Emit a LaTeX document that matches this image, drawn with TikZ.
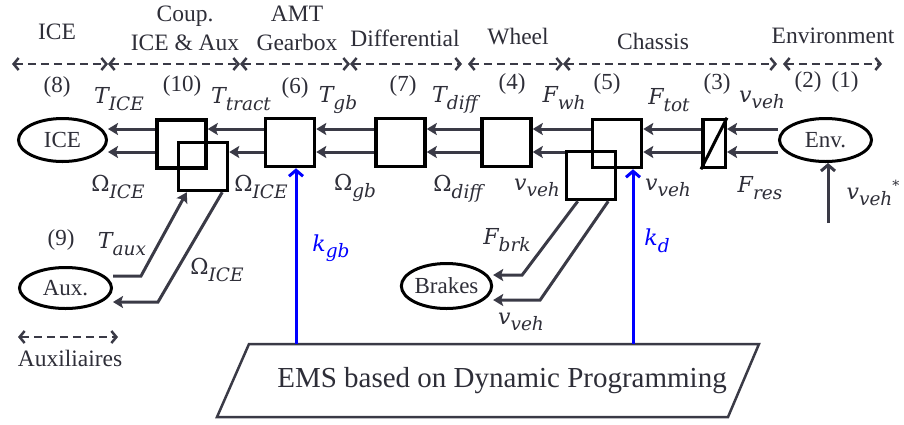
\documentclass[tikz,border=0pt]{standalone}
\usepackage{fontspec}
\setmainfont{Liberation Serif}
\newfontfamily\dvs{DejaVu Serif}
\newcommand\labT[2]{{\dvs\itshape #1}\raisebox{-6.5pt}{\fontsize{18.5}{20}\selectfont\dvs\itshape #2}}
\newcommand\labO[1]{{\dvs Ω}\raisebox{-6.5pt}{\fontsize{18.5}{20}\selectfont\dvs\itshape #1}}
\usetikzlibrary{arrows.meta,calc,backgrounds,shapes.geometric}
\definecolor{ink}{HTML}{2E2E38}
\definecolor{arrc}{HTML}{3A3A46}
\definecolor{ctrl}{HTML}{0000FF}
\tikzset{
  box/.style={draw=black, line width=3.5pt, inner sep=0pt, minimum width=49pt, minimum height=48pt},
  ell/.style={ellipse, draw=black, fill=white, line width=3pt, inner sep=0pt, text=ink, font=\fontsize{23}{26}\selectfont},
  sig/.style={draw=arrc, line width=3pt, -{Stealth[length=10pt,width=12pt,inset=2pt]}},
  barbarr/.style={draw=arrc, line width=3pt, -{Straight Barb[length=6pt,width=14pt]}},
  bluearr/.style={draw=ctrl, line width=3pt, -{Straight Barb[length=6pt,width=14pt]}},
  hdr/.style={draw=arrc, line width=2.5pt, dash pattern=on 8pt off 5pt,
    {Straight Barb[length=5pt,width=12pt]}-{Straight Barb[length=5pt,width=12pt]}},
  num/.style={text=ink, inner sep=0pt, font=\fontsize{23}{26}\selectfont},
  lbl/.style={text=ink, inner sep=0pt, font=\fontsize{22}{24}\selectfont},
  ttl/.style={text=ink, inner sep=0pt, align=center, font=\fontsize{23.5}{29}\selectfont},
  blbl/.style={text=ctrl, inner sep=0pt, font=\fontsize{22}{24}\selectfont},
}
\begin{document}
\begin{tikzpicture}[x=1pt,y=-1pt]
\useasboundingbox (0,0) rectangle (904,424);

% ---- header titles
\node[ttl] (tICE) at (57,32) {ICE};
\node[ttl] (tCoup) at (185,28.5) {Coup.\\ICE \& Aux};
\node[ttl] (tAMT) at (297,28.5) {AMT\\Gearbox};
\node[ttl] (tDiff) at (405,38) {Differential};
\node[ttl] (tWheel) at (518,37) {Wheel};
\node[ttl] (tChas) at (653,41) {Chassis};
\node[ttl] (tEnv) at (833,36) {Environment};

% ---- header dashed ranges
\coordinate (h0) at (12,64);
\coordinate (h1) at (108,64);
\coordinate (h2) at (240,64);
\coordinate (h3) at (350,64);
\coordinate (h4) at (462,64);
\coordinate (h4b) at (468,64);
\coordinate (h5) at (563,64);
\coordinate (h6) at (777,64);
\coordinate (h6b) at (783,64);
\coordinate (h7) at (882,64);
\draw[hdr] (h0) -- (h1);
\draw[hdr] (h1) -- (h2);
\draw[hdr] (h2) -- (h3);
\draw[hdr] (h3) -- (h4);
\draw[hdr] (h4b) -- (h5);
\draw[hdr] (h5) -- (h6);
\draw[hdr] (h6b) -- (h7);

% ---- numbers
\node[num] (n8) at (57,87) {(8)};
\node[num] (n10) at (182,86) {(10)};
\node[num] (n6) at (295,88) {(6)};
\node[num] (n7) at (403,86) {(7)};
\node[num] (n4) at (512,84) {(4)};
\node[num] (n5) at (607,84) {(5)};
\node[num] (n3) at (717,84) {(3)};
\node[num] (n2) at (808,82) {(2)};
\node[num] (n1) at (845,82) {(1)};

% ---- blocks
\node[ell, minimum width=88pt, minimum height=43pt] (ice) at (62.5,140) {ICE};
\node[box] (c1) at (181.5,144) {};
\node[box] (c2) at (203,166.5) {};
\node[box] (gb) at (290,142.5) {};
\node[box] (df) at (400.5,142.5) {};
\node[box] (wh) at (506.5,142.5) {};
\node[box] (ch1) at (617,143.5) {};
\node[box] (ch2) at (591,175.5) {};
\node[box, minimum width=22.5pt] (b3) at (714,143.5) {};
\draw[black, line width=3pt] (b3.south west) -- (b3.north east);
\node[ell, minimum width=92pt, minimum height=43pt] (env) at (825.5,140) {Env.};
\node[ell, minimum width=92pt, minimum height=41pt] (aux) at (65.5,288) {Aux.};
\node[ell, minimum width=90pt, minimum height=45pt] (brk) at (446.5,286) {Brakes};

% ---- EMS
\coordinate (e1) at (249,344);
\coordinate (e2) at (759,344);
\coordinate (e3) at (728,417);
\coordinate (e4) at (217,417);
\draw[draw=arrc, line width=2.5pt, line join=miter] (e1) -- (e2) -- (e3) -- (e4) -- cycle;
\node[text=ink, inner sep=0pt, font=\fontsize{29}{32}\selectfont] (ems) at (502,381) {EMS based on Dynamic Programming};

% ---- connectors
\coordinate (up) at (0,129);
\coordinate (lo) at (0,152);
\coordinate (auxup) at (0,276);
\coordinate (auxlo) at (0,302);
\coordinate (bup) at (0,275);
\coordinate (blo) at (0,300);
\begin{scope}[on background layer]
\draw[sig] (env.west |- up) -- (b3.east |- up);
\draw[sig] (env.west |- lo) -- (b3.east |- lo);
\draw[sig] (b3.west |- up) -- (ch1.east |- up);
\draw[sig] (b3.west |- lo) -- (ch1.east |- lo);
\draw[sig] (ch1.west |- up) -- (wh.east |- up);
\draw[sig] (ch2.west |- lo) -- (wh.east |- lo);
\draw[sig] (wh.west |- up) -- (df.east |- up);
\draw[sig] (wh.west |- lo) -- (df.east |- lo);
\draw[sig] (df.west |- up) -- (gb.east |- up);
\draw[sig] (df.west |- lo) -- (gb.east |- lo);
\draw[sig] (gb.west |- up) -- (c1.east |- up);
\draw[sig] (gb.west |- lo) -- (c2.east |- lo);
\draw[sig] (c1.west |- up) -- (ice.east |- up);
\draw[sig] (c1.west |- lo) -- (ice.east |- lo);
\end{scope}
\draw[sig] (aux.east |- auxup) -- ($(aux.east |- auxup)+(28,0)$) -- ($(c2.south west)+(10,0)$);
\draw[sig] ($(c2.south east)+(-7,0)$) -- ($(aux.east |- auxlo)+(45,0)$) -- (aux.east |- auxlo);
\draw[sig] ($(ch2.south west)+(13,0)$) -- ($(brk.east |- bup)+(29,0)$) -- (brk.east |- bup);
\draw[sig] ($(ch2.south east)+(-9,0)$) -- ($(brk.east |- blo)+(47,0)$) -- (brk.east |- blo);

\coordinate (kgb) at (296,344);
\coordinate (kd) at (633,344);
\draw[bluearr] (kgb) -- (kgb |- gb.south);
\draw[bluearr] (kd) -- (kd |- ch1.south);
\coordinate (vs) at (828,223);
\draw[barbarr] (vs) -- (vs |- env.south);

% ---- signal labels
\node[lbl] (lTice) at (119,99) {\labT{T}{ICE}};
\node[lbl] (lWice) at (118,187) {\labO{ICE}};
\node[lbl] (lTtr) at (241,99) {\labT{T}{tract}};
\node[lbl] (lWice2) at (261,187) {\labO{ICE}};
\node[lbl] (lTgb) at (338,100) {\labT{T}{gb}};
\node[lbl] (lWgb) at (355,188) {\labO{gb}};
\node[lbl] (lTdf) at (455,100) {\labT{T}{diff}};
\node[lbl] (lWdf) at (458,189) {\labO{diff}};
\node[lbl] (lFwh) at (564,98) {\labT{F}{wh}};
\node[lbl] (lv1) at (537,188) {\labT{v}{veh}};
\node[lbl] (lFtot) at (669,100) {\labT{F}{tot}};
\node[lbl] (lv2) at (668,188) {\labT{v}{veh}};
\node[lbl] (lv3) at (762,100) {\labT{v}{veh}};
\node[lbl] (lFres) at (760,188) {\labT{F}{res}};
\node[lbl] (lvs) at (873,193) {\labT{v}{veh}\raisebox{9pt}{\fontsize{14}{16}\selectfont\dvs *}};
\node[num] (n9) at (61,240) {(9)};
\node[lbl] (lTaux) at (122,244) {\labT{T}{aux}};
\node[lbl] (lWice3) at (217,270) {\labO{ICE}};
\node[lbl] (lFbrk) at (507,240) {\labT{F}{brk}};
\node[lbl] (lv4) at (521,322) {\labT{v}{veh}};
\node[blbl] (lkgb) at (331,248) {\labT{k}{gb}};
\node[blbl] (lkd) at (657,241) {\labT{k}{d}};

% ---- auxiliaires
\coordinate (a0) at (18,337);
\coordinate (a1) at (118,337);
\draw[hdr] (a0) -- (a1);
\node[ttl] (tAux) at (70,358) {Auxiliaires};
\end{tikzpicture}
\end{document}
